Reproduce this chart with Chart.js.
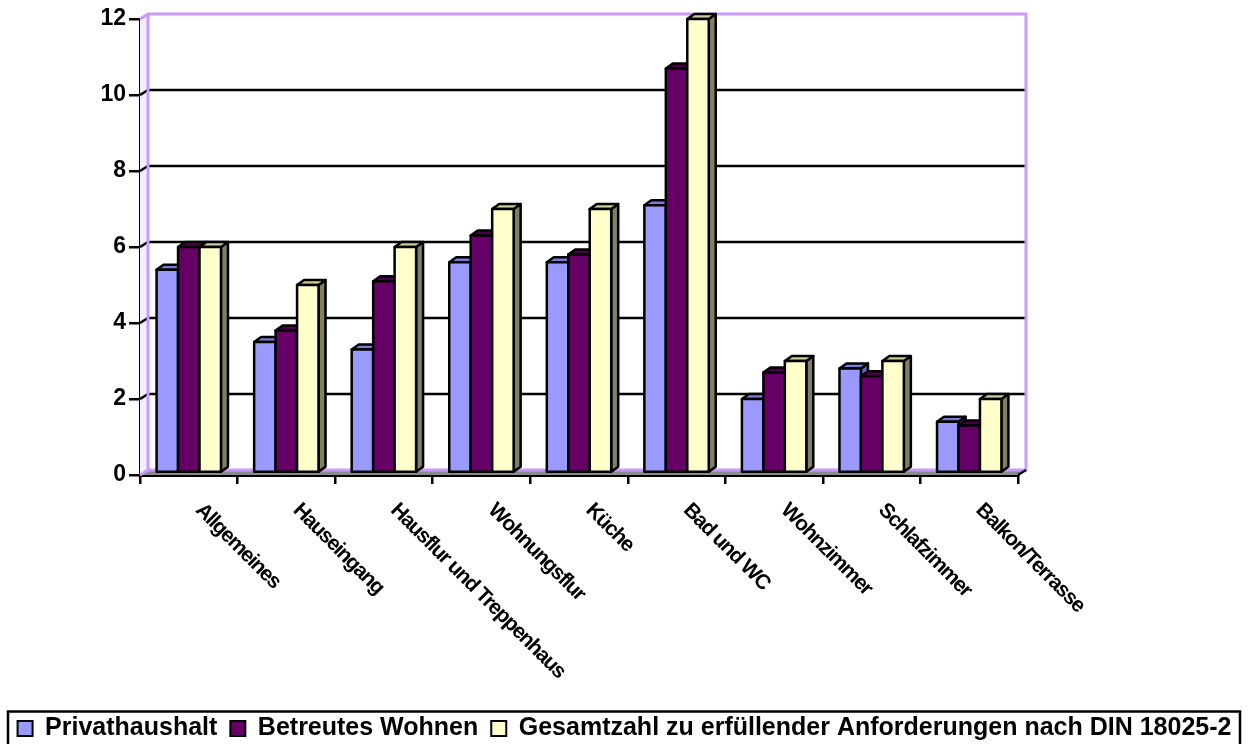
<!DOCTYPE html>
<html>
<head>
<meta charset="utf-8">
<script src="https://cdn.jsdelivr.net/npm/chart.js@4.4.1/dist/chart.umd.min.js"></script>
<style>
  html, body { margin: 0; padding: 0; background: #fff; }
  #wrap { width: 1249px; height: 744px; position: relative; }
</style>
</head>
<body>
<div id="wrap"><canvas id="chart"></canvas></div>
<script>
const categories = ['Allgemeines', 'Hauseingang', 'Hausflur und Treppenhaus', 'Wohnungsflur', 'Küche',
  'Bad und WC', 'Wohnzimmer', 'Schlafzimmer', 'Balkon/Terrasse'];
const privathaushalt = [5.4, 3.5, 3.3, 5.6, 5.6, 7.1, 2.0, 2.8, 1.4];
const betreutesWohnen = [6.0, 3.8, 5.1, 6.3, 5.8, 10.7, 2.7, 2.6, 1.3];
const gesamtzahl = [6, 5, 6, 7, 7, 12, 3, 3, 2];
const yTicks = [0, 2, 4, 6, 8, 10, 12];

const FONT = '"Liberation Sans", Arial, Helvetica, sans-serif';
const WALL = '#cc99ff';
const WALL_DEPTH = { x: 8, y: -5 };
const BAR_DEPTH = { x: 7, y: -5 };
const LINE = 2.5;
const LEGEND_FONT = 25;
const LEGEND_PAD = 13;

// front / top / side colours of each series
const shades = [
  { front: '#9999ff', top: '#7c7cd6', side: '#6666b3' },
  { front: '#660066', top: '#4a004a', side: '#330033' },
  { front: '#ffffcc', top: '#cccc99', side: '#808066' }
];

function poly(ctx, pts, fill, stroke, lw) {
  ctx.beginPath();
  ctx.moveTo(pts[0][0], pts[0][1]);
  for (let i = 1; i < pts.length; i++) ctx.lineTo(pts[i][0], pts[i][1]);
  ctx.closePath();
  if (fill) { ctx.fillStyle = fill; ctx.fill(); }
  if (stroke) { ctx.strokeStyle = stroke; ctx.lineWidth = lw || 2; ctx.lineJoin = 'round'; ctx.stroke(); }
}

// walls, floor, grid and the 3d columns
const box3d = {
  id: 'box3d',
  afterLayout(chart) {
    // legend row sits a little lower than Chart.js puts it
    const lg = chart.legend;
    const shift = 703 - lg.top;
    lg.top += shift;
    lg.bottom += shift;
  },
  beforeDatasetsDraw(chart) {
    const { ctx, chartArea: a, scales: { x, y } } = chart;
    const L = a.left, R = a.right;
    const T = y.getPixelForValue(yTicks[yTicks.length - 1]);
    const B = y.getPixelForValue(0);
    const dx = WALL_DEPTH.x, dy = WALL_DEPTH.y;
    ctx.save();

    // side wall and back wall
    poly(ctx, [[L, T], [L + dx, T + dy], [L + dx, B + dy], [L, B]], '#f4eeff');
    poly(ctx, [[L + dx, T + dy], [R + dx, T + dy], [R + dx, B + dy], [L + dx, B + dy]], '#ffffff');

    // floor
    poly(ctx, [[L, B], [R, B], [R + dx, B + dy], [L + dx, B + dy]], '#8a8a8a');

    // gridlines on the walls
    ctx.lineWidth = LINE;
    ctx.strokeStyle = '#000';
    yTicks.forEach(v => {
      if (v === 0 || v === yTicks[yTicks.length - 1]) return;
      const py = y.getPixelForValue(v);
      ctx.beginPath();
      ctx.moveTo(L, py);
      ctx.lineTo(L + dx, py + dy);
      ctx.lineTo(R + dx, py + dy);
      ctx.stroke();
    });

    // wall outlines
    ctx.strokeStyle = WALL;
    ctx.lineWidth = 3;
    ctx.beginPath();
    ctx.moveTo(L, T);
    ctx.lineTo(L + dx, T + dy);
    ctx.lineTo(R + dx, T + dy);
    ctx.lineTo(R + dx, B + dy);
    ctx.lineTo(L + dx, B + dy);
    ctx.lineTo(L, B);
    ctx.moveTo(L + dx, T + dy);
    ctx.lineTo(L + dx, B + dy);
    ctx.stroke();

    ctx.strokeStyle = '#000';
    ctx.lineWidth = LINE;
    ctx.beginPath();
    ctx.moveTo(R, B);
    ctx.lineTo(R + dx, B + dy);
    ctx.stroke();

    // columns, drawn left to right so each front face hides the neighbour's side
    const bx = BAR_DEPTH.x, by = BAR_DEPTH.y;
    const metas = chart.data.datasets.map((d, i) => chart.getDatasetMeta(i));
    for (let j = 0; j < categories.length; j++) {
      metas.forEach((meta, i) => {
        const bar = meta.data[j];
        if (!bar) return;
        const x1 = bar.x - bar.width / 2, x2 = bar.x + bar.width / 2;
        const top = bar.y, base = bar.base - 2;
        const c = shades[i];
        poly(ctx, [[x2, top], [x2 + bx, top + by], [x2 + bx, base + by], [x2, base]], c.side, '#000', LINE);
        poly(ctx, [[x1, top], [x1 + bx, top + by], [x2 + bx, top + by], [x2, top]], c.top, '#000', LINE);
        poly(ctx, [[x1, top], [x2, top], [x2, base], [x1, base]], c.front, '#000', LINE);
      });
    }
    ctx.restore();
    return false;
  },
  afterDraw(chart) {
    const { ctx, scales: { x, y } } = chart;
    const B = y.getPixelForValue(0);
    ctx.save();
    // slanted category labels
    ctx.font = 'bold 21px ' + FONT;
    ctx.letterSpacing = '-1.2px';
    ctx.fillStyle = '#000';
    ctx.textAlign = 'left';
    ctx.textBaseline = 'middle';
    categories.forEach((c, i) => {
      const px = x.getPixelForValue(i);
      ctx.save();
      ctx.translate(px + 10, B + 32);
      ctx.rotate(Math.PI / 4);
      ctx.fillText(c, 0, 0);
      ctx.restore();
    });
    ctx.letterSpacing = '0px';
    // frame around the legend
    const lg = chart.legend;
    ctx.strokeStyle = '#000';
    ctx.lineWidth = LINE;
    ctx.strokeRect(8, lg.top + LEGEND_PAD + LEGEND_FONT / 2 - 17, 1232, 80);
    ctx.restore();
  }
};

const makeSet = (label, data, i) => ({
  label,
  data,
  backgroundColor: shades[i].front,
  borderColor: '#000',
  borderWidth: 2,
  categoryPercentage: 0.66,
  barPercentage: 1.0
});

new Chart(document.getElementById('chart'), {
  type: 'bar',
  data: {
    labels: categories,
    datasets: [
      makeSet('Privathaushalt', privathaushalt, 0),
      makeSet('Betreutes Wohnen', betreutesWohnen, 1),
      makeSet('Gesamtzahl zu erfüllender Anforderungen nach DIN 18025-2', gesamtzahl, 2)
    ]
  },
  options: {
    responsive: true,
    maintainAspectRatio: false,
    animation: false,
    layout: { padding: { top: 19, left: 0, right: 0, bottom: 0 } },
    plugins: {
      tooltip: { enabled: false },
      legend: {
        position: 'bottom',
        labels: {
          boxWidth: 15,
          boxHeight: 15,
          padding: LEGEND_PAD,
          color: '#000',
          font: { family: FONT, size: LEGEND_FONT, weight: 'bold' }
        }
      }
    },
    scales: {
      x: {
        afterFit: s => { s.height = 744 - 475 - (LEGEND_FONT + LEGEND_PAD + 10); },
        ticks: { display: false },
        grid: { drawOnChartArea: false, drawTicks: true, tickLength: 9, color: '#000', lineWidth: LINE, offset: true },
        border: { color: '#000', width: 3 }
      },
      y: {
        min: 0,
        max: 12,
        afterFit: s => { s.width = 140; },
        afterBuildTicks: s => { s.ticks = yTicks.map(v => ({ value: v })); },
        ticks: { color: '#000', padding: 3, font: { family: FONT, size: 23, weight: 'bold' } },
        grid: { drawOnChartArea: false, drawTicks: true, tickLength: 11, color: '#000', lineWidth: LINE },
        border: { color: '#000', width: 3 }
      },
      pad: {
        position: 'right',
        afterFit: s => { s.width = 231; },
        ticks: { display: false },
        grid: { display: false },
        border: { display: false }
      }
    }
  },
  plugins: [box3d]
});
</script>
</body>
</html>
